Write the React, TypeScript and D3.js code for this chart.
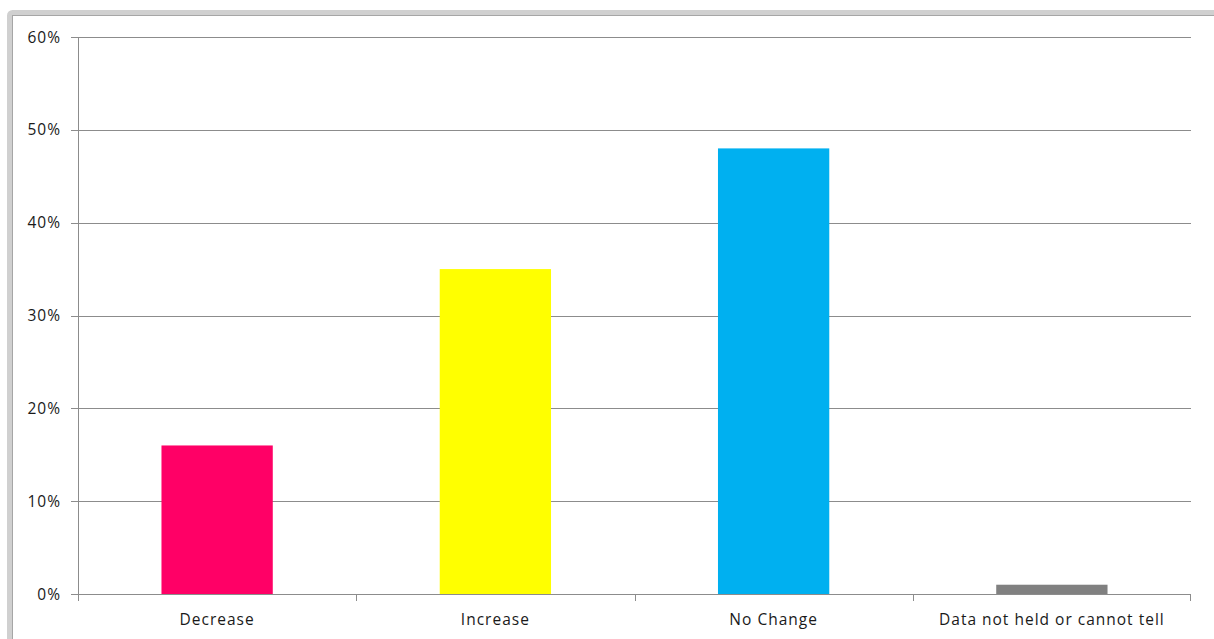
import React from "react";
import * as d3 from "d3";

const categories = ["Decrease", "Increase", "No Change", "Data not held or cannot tell"];
const values = [0.16, 0.35, 0.48, 0.01];
const barColors = ["#FF0066", "#FFFF00", "#00B0F0", "#808080"];
const yTicks = [0, 0.1, 0.2, 0.3, 0.4, 0.5, 0.6];

const W = 1214;
const H = 639;
const left = 78;
const right = 1191;
const top = 37;
const bottom = 594;

export default function App() {
  const x = d3.scaleBand<string>().domain(categories).range([left, right]).paddingInner(0.6).paddingOuter(0.3);
  const band = d3.scaleBand<string>().domain(categories).range([left, right]);
  const y = d3.scaleLinear().domain([0, 0.6]).range([bottom, top]);
  const fmt = d3.format(".0%");
  const font = "'Open Sans', sans-serif";
  const gridColor = "#8c8c8c";
  const textColor = "#1a1a1a";

  return (
    <svg
      width={W}
      height={H}
      style={{ position: "absolute", left: 0, top: 0, background: "#fff" }}
      fontFamily={font}
    >
      {/* outer frame */}
      <rect x={9.5} y={12.5} width={W + 20} height={H + 20} rx={3} fill="none" stroke="#d0d0d0" strokeWidth={5} />
      <rect x={12.5} y={15.5} width={W + 20} height={H + 20} fill="none" stroke="#a6a6a6" strokeWidth={1} />

      {/* gridlines and y labels */}
      {yTicks.map((t) => (
        <g key={t}>
          <line x1={left - 7} x2={right} y1={Math.round(y(t)) + 0.5} y2={Math.round(y(t)) + 0.5} stroke={gridColor} strokeWidth={1} />
          <text x={61} y={y(t) + 5.5} textAnchor="end" fontSize={15.5} letterSpacing={1} fill={textColor}>
            {fmt(t)}
          </text>
        </g>
      ))}

      {/* value axis */}
      <line x1={left + 0.5} x2={left + 0.5} y1={top} y2={bottom} stroke={gridColor} />

      {/* bars */}
      {categories.map((c, i) => (
        <rect key={c} x={x(c)} y={y(values[i])} width={x.bandwidth()} height={bottom - y(values[i])} fill={barColors[i]} />
      ))}

      {/* category axis */}
      <line x1={left} x2={right} y1={bottom + 0.5} y2={bottom + 0.5} stroke={gridColor} />
      {categories.map((c, i) => (
        <line key={"t" + i} x1={Math.round(band(c)!) + 0.5} x2={Math.round(band(c)!) + 0.5} y1={bottom} y2={bottom + 7} stroke={gridColor} />
      ))}
      <line x1={right - 0.5} x2={right - 0.5} y1={bottom} y2={bottom + 7} stroke={gridColor} />
      {categories.map((c) => (
        <text key={"l" + c} x={band(c)! + band.bandwidth() / 2} y={625} textAnchor="middle" fontSize={15.5} letterSpacing={1} fill={textColor}>
          {c}
        </text>
      ))}
    </svg>
  );
}
